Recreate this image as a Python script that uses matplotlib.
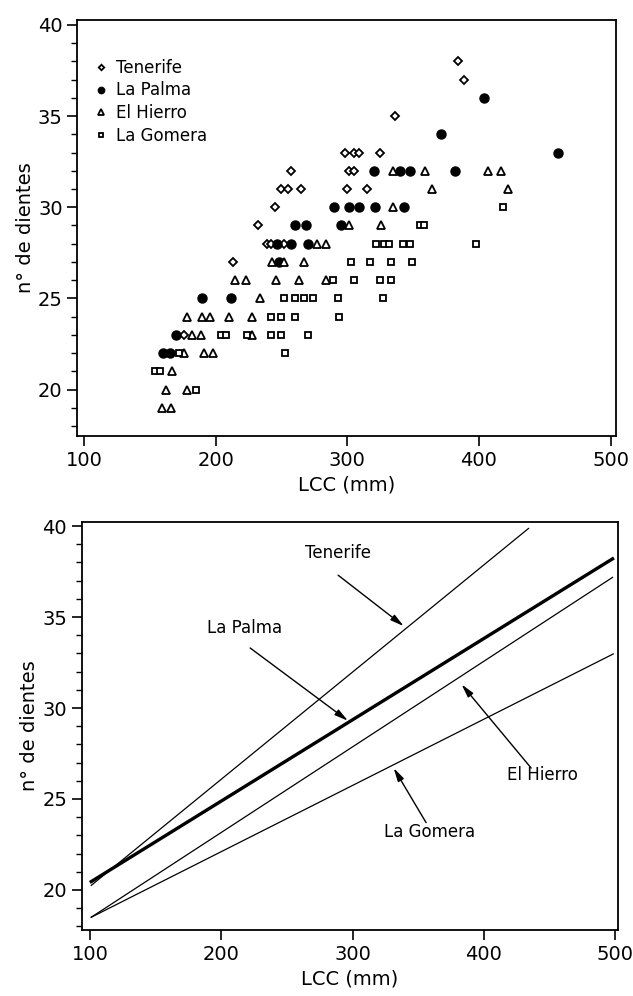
import matplotlib
matplotlib.use('Agg')
import matplotlib.pyplot as plt
from matplotlib.ticker import MultipleLocator

plt.rcParams['font.family'] = ['DejaVu Sans']

# scatter data (LCC mm, n de dientes)
tenerife_x = [176, 213, 232, 239, 242, 252, 245, 250, 255, 265, 257, 300, 315, 301, 305,
              298, 305, 309, 325, 336, 384, 389]
tenerife_y = [23, 27, 29, 28, 28, 28, 30, 31, 31, 31, 32, 31, 31, 32, 32,
              33, 33, 33, 33, 35, 38, 37]

palma_x = [160, 165, 170, 190, 212, 248, 247, 257, 270, 260, 269, 295, 290, 301, 309,
           321, 343, 320, 340, 348, 382, 371, 404, 460]
palma_y = [22, 22, 23, 25, 25, 27, 28, 28, 28, 29, 29, 29, 30, 30, 30,
           30, 30, 32, 32, 32, 32, 34, 36, 33]

hierro_x = [159, 166, 162, 178, 167, 176, 191, 198, 182, 189, 228, 178, 190, 196, 210,
            228, 234, 215, 223, 246, 263, 284, 243, 252, 267, 277, 284, 301, 326, 335,
            364, 422, 335, 359, 407, 417]
hierro_y = [19, 19, 20, 20, 21, 22, 22, 22, 23, 23, 23, 24, 24, 24, 24,
            24, 25, 26, 26, 26, 26, 26, 27, 27, 27, 28, 28, 29, 29, 30,
            31, 31, 32, 32, 32, 32]

gomera_x = [154, 158, 185, 172, 253, 204, 208, 224, 242, 250, 270, 242, 250, 260, 294,
            252, 260, 267, 274, 293, 327, 289, 305, 325, 333, 303, 317, 333, 349, 322,
            328, 332, 342, 348, 398, 355, 358, 418]
gomera_y = [21, 21, 20, 22, 22, 23, 23, 23, 23, 23, 23, 24, 24, 24, 24,
            25, 25, 25, 25, 25, 25, 26, 26, 26, 26, 27, 27, 27, 27, 28,
            28, 28, 28, 28, 28, 29, 29, 30]

# regression lines of the bottom panel, end points
islands = ['Tenerife', 'La Palma', 'El Hierro', 'La Gomera']
line_x = [[101, 434], [101, 498], [101, 498], [101, 498.5]]
line_y = [[20.25, 39.87], [20.46, 38.2], [18.5, 37.18], [18.5, 32.97]]
line_w = [0.9, 2.4, 0.9, 0.9]

# label position, arrow start, arrow tip
label_xy = [(289, 38.0), (218, 33.9), (444.5, 25.8), (358.7, 22.7)]
arrow_from = [(289, 37.3), (222, 33.3), (436, 26.7), (356, 23.7)]
arrow_to = [(339, 34.5), (296.5, 29.3), (383, 31.3), (331.3, 26.7)]

fig = plt.figure(figsize=(6.33, 9.96), dpi=100)
ax1 = fig.add_axes([0.122, 0.5622, 0.8505, 0.4177])
ax2 = fig.add_axes([0.129, 0.0663, 0.847, 0.4099])

ax1.plot(tenerife_x, tenerife_y, 'D', ms=4.0, mfc='white', mec='black', mew=1.3, ls='none', label='Tenerife')
ax1.plot(palma_x, palma_y, 'o', ms=6.5, mfc='black', mec='black', ls='none', label='La Palma')
ax1.plot(hierro_x, hierro_y, '^', ms=5.3, mfc='white', mec='black', mew=1.3, ls='none', label='El Hierro')
ax1.plot(gomera_x, gomera_y, 's', ms=5.0, mfc='white', mec='black', mew=1.3, ls='none', label='La Gomera')

leg = ax1.legend(loc='upper left', bbox_to_anchor=(0.01, 0.935), frameon=False, fontsize=12,
                 markerscale=0.7, handlelength=0.8, handletextpad=0.5, labelspacing=0.28,
                 borderpad=0.2)

ax1.set_xlim(94.9, 503.8)
ax1.set_ylim(17.45, 40.27)

for i in range(len(islands)):
    ax2.plot(line_x[i], line_y[i], color='black', lw=line_w[i])
    ax2.annotate('', xy=arrow_to[i], xytext=arrow_from[i],
                 arrowprops=dict(arrowstyle='-|>,head_length=0.8,head_width=0.2',
                                 color='black', lw=1.0, shrinkA=0, shrinkB=0))
    ax2.text(label_xy[i][0], label_xy[i][1], islands[i], fontsize=12, ha='center', va='bottom')

ax2.set_xlim(93.7, 502.0)
ax2.set_ylim(17.8, 40.24)

for ax in (ax1, ax2):
    ax.set_xticks([100, 200, 300, 400, 500])
    ax.set_yticks([20, 25, 30, 35, 40])
    ax.yaxis.set_minor_locator(MultipleLocator(1))
    ax.tick_params(axis='both', which='major', direction='out', length=7, width=1.2, labelsize=14)
    ax.tick_params(axis='y', which='minor', direction='out', length=4, width=1.0)
    ax.set_xlabel('LCC (mm)', fontsize=14, labelpad=4)
    ax.set_ylabel('n° de dientes', fontsize=14, labelpad=2)
    for s in ax.spines.values():
        s.set_linewidth(1.3)

fig.savefig('out.png', dpi=100)
